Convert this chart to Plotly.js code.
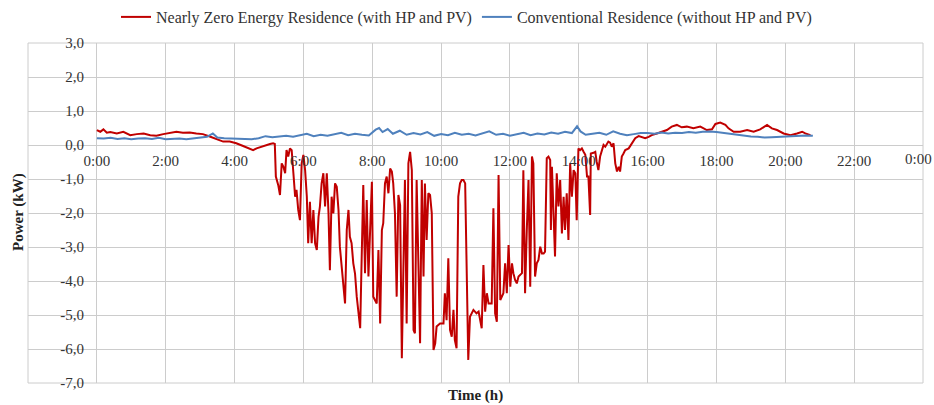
<!DOCTYPE html>
<html>
<head>
<meta charset="utf-8">
<script src="https://cdn.plot.ly/plotly-3.0.1.min.js"></script>
<style>html,body{margin:0;padding:0;background:#fff;}#chart{width:934px;height:405px;}</style>
</head>
<body>
<div id="chart"></div>
<script>
// Time in hours, power in kW
const nzebTime = [0.00,0.10,0.19,0.29,0.39,0.58,0.77,0.97,1.16,1.36,1.55,1.73,1.93,2.12,2.31,2.50,2.70,2.89,3.08,3.28,3.47,3.67,3.86,4.05,4.25,4.44,4.54,4.64,4.83,5.03,5.12,5.17,
5.20,5.27,5.32,5.37,5.42,5.47,5.51,5.56,5.61,5.66,5.71,5.76,5.80,5.85,5.90,5.95,6.00,6.05,6.10,6.14,6.19,6.24,6.29,6.34,6.39,6.44,6.48,6.53,6.58,6.63,6.68,6.73,6.77,6.82,6.87,6.92,6.97,7.02,7.06,7.11,7.16,7.21,7.26,7.31,7.35,7.40,7.45,7.50,7.55,7.60,7.65,
7.69,7.74,7.79,7.84,7.89,7.99,8.03,8.08,8.13,8.18,8.23,8.28,8.32,8.37,8.42,8.47,8.52,8.57,8.61,8.66,8.71,8.76,8.81,8.86,8.91,8.95,9.00,9.05,9.10,9.15,9.20,9.24,9.29,9.34,9.39,9.44,9.49,9.53,9.58,9.63,9.68,9.73,9.78,9.83,9.87,9.97,10.07,10.11,10.16,10.21,10.26,10.31,10.36,10.40,10.45,10.50,10.55,10.60,10.65,10.70,10.74,10.79,10.84,10.94,11.03,
11.09,11.18,11.23,11.28,11.33,11.38,11.47,11.52,11.57,11.62,11.67,11.72,11.76,11.81,11.86,11.91,11.96,12.01,12.06,12.10,12.15,12.20,12.25,12.30,12.35,12.39,12.44,12.49,12.54,12.59,12.64,12.68,12.73,12.78,12.83,12.88,12.93,12.98,13.02,13.07,13.12,13.17,13.19,13.22,13.26,13.31,13.36,13.41,13.46,13.51,13.56,13.60,13.65,13.70,13.75,13.80,13.85,13.90,13.94,13.99,
14.04,14.09,14.14,14.19,14.24,14.28,14.33,14.35,14.43,14.48,14.52,14.57,14.62,14.67,14.72,14.77,14.82,14.86,14.91,14.96,15.01,15.06,15.11,15.16,15.20,15.25,15.30,15.35,15.45,15.54,15.64,15.74,15.83,15.93,16.03,16.12,16.27,
16.42,16.56,16.70,16.85,16.99,17.14,17.33,17.53,17.72,17.87,17.97,18.11,18.26,18.35,18.50,18.69,18.89,19.08,19.27,19.47,19.61,19.76,19.95,20.15,20.34,20.49,20.58,20.73];
const nzebPower = [0.44,0.39,0.46,0.36,0.38,0.34,0.39,0.29,0.32,0.34,0.29,0.27,0.32,0.36,0.39,0.36,0.37,0.34,0.32,0.25,0.17,0.10,0.10,0.05,-0.03,-0.10,-0.15,-0.10,-0.03,0.03,0.05,0.03,
-0.93,-1.18,-1.47,-0.54,-0.64,-0.83,-0.15,-0.34,-0.10,-0.15,-0.83,-1.52,-1.32,-1.91,-2.21,-0.54,-0.29,-0.74,-1.52,-2.89,-1.67,-2.89,-1.91,-2.89,-3.09,-2.11,-1.81,-1.13,-0.83,-1.81,-0.83,-2.01,-3.68,-1.52,-2.01,-1.13,-1.23,-1.91,-2.99,-3.48,-3.97,-4.66,-2.50,-1.91,-2.70,-2.89,-3.48,-3.78,-4.46,-4.85,-5.39,
-3.48,-1.18,-3.77,-1.62,-3.87,-1.08,-4.46,-4.56,-4.66,-3.09,-5.25,-2.50,-2.30,-1.13,-0.93,-1.42,-0.69,-0.78,-1.13,-2.01,-4.46,-1.47,-1.77,-6.27,-2.50,-1.03,-5.25,-0.54,-0.20,-0.74,-5.44,-5.54,-1.03,-3.48,-5.83,-1.03,-3.87,-1.13,-2.79,-1.42,-1.47,-2.01,-6.03,-5.83,-5.34,-5.25,-5.25,-4.36,-5.15,-3.33,-5.44,-5.64,-4.85,-5.74,-5.98,-1.52,-1.13,-1.03,-1.03,-1.13,-3.48,-6.32,-5.05,-4.85,-4.95,
-4.90,-5.39,-3.53,-4.90,-4.36,-4.66,-4.66,-1.86,-4.95,-5.20,-0.88,-4.56,-4.46,-4.36,-3.48,-4.36,-2.94,-4.17,-3.48,-3.77,-3.97,-4.07,-3.87,-3.82,-3.77,-0.74,-4.36,-2.50,-1.03,-4.17,-0.34,-0.54,-3.87,-3.48,-3.38,-2.99,-3.19,-3.19,-3.14,-0.39,-0.34,-0.44,-2.50,-0.64,-2.11,-3.28,-0.83,-1.81,-1.03,-2.60,-1.52,-2.50,-1.42,-2.79,-0.54,-1.52,-0.74,-0.83,-2.21,-0.10,
-0.15,-0.10,-0.20,-0.29,-0.93,-0.93,-2.06,-0.25,-0.23,-0.20,-0.49,-0.74,-0.34,-0.15,0.00,-0.05,0.05,0.10,0.07,-0.05,0.05,-0.54,-0.78,-0.64,-0.78,-0.34,-0.25,-0.15,-0.10,0.05,0.20,0.26,0.24,0.20,0.24,0.29,0.34,
0.39,0.44,0.54,0.59,0.52,0.54,0.49,0.54,0.44,0.46,0.62,0.66,0.59,0.49,0.39,0.39,0.44,0.39,0.46,0.59,0.49,0.44,0.34,0.29,0.34,0.39,0.34,0.29];

const convTime = [0.0,0.2,0.4,0.6,0.8,1.0,1.2,1.4,1.6,1.8,2.0,2.2,2.4,2.6,2.8,3.0,3.2,3.37,3.5,3.7,3.9,4.1,4.3,4.5,4.7,4.9,5.1,5.3,5.5,5.7,5.9,6.1,6.3,6.5,6.7,6.9,7.1,7.3,7.5,7.7,7.9,8.1,8.2,8.3,8.45,8.6,8.8,9.0,9.2,9.4,9.6,9.8,10.0,10.2,10.4,10.6,10.8,11.0,11.2,11.4,11.6,11.8,12.0,12.2,12.4,12.6,12.8,13.0,13.2,13.4,13.6,13.8,13.95,14.05,14.2,14.4,14.6,14.8,15.0,15.2,15.4,15.6,15.8,16.0,16.2,16.4,16.6,16.8,17.0,17.2,17.4,17.6,17.8,18.0,18.2,18.4,18.6,18.8,19.0,19.2,19.4,19.6,19.8,20.0,20.2,20.4,20.6,20.8];
const convPower = [0.20,0.19,0.21,0.18,0.20,0.17,0.19,0.20,0.18,0.21,0.17,0.18,0.19,0.17,0.19,0.22,0.24,0.34,0.22,0.20,0.19,0.18,0.17,0.17,0.20,0.26,0.23,0.25,0.27,0.24,0.28,0.33,0.26,0.30,0.27,0.31,0.36,0.29,0.33,0.30,0.28,0.45,0.50,0.38,0.47,0.33,0.42,0.30,0.35,0.31,0.38,0.27,0.32,0.29,0.36,0.30,0.33,0.28,0.35,0.40,0.30,0.33,0.27,0.32,0.36,0.29,0.34,0.31,0.37,0.33,0.39,0.35,0.55,0.40,0.30,0.33,0.36,0.30,0.40,0.33,0.29,0.32,0.35,0.35,0.33,0.37,0.34,0.36,0.35,0.38,0.36,0.39,0.40,0.38,0.35,0.33,0.31,0.28,0.25,0.24,0.22,0.23,0.24,0.25,0.27,0.26,0.28,0.27];

const xTickVals = [0,2,4,6,8,10,12,14,16,18,20,22,24];
const xTickText = ['0:00','2:00','4:00','6:00','8:00','10:00','12:00','14:00','16:00','18:00','20:00','22:00','0:00'];
const yTickVals = [3,2,1,0,-1,-2,-3,-4,-5,-6,-7];
const yTickText = ['3,0','2,0','1,0','0,0','-1,0','-2,0','-3,0','-4,0','-5,0','-6,0','-7,0'];
const seriesNames = ['Nearly Zero Energy Residence (with HP and PV)','Conventional Residence (without HP and PV)'];

const font = 'Liberation Serif, Times New Roman, serif';
const traces = [
  {x: nzebTime, y: nzebPower, name: seriesNames[0], type: 'scatter', mode: 'lines', line: {color: '#C00000', width: 2}},
  {x: convTime, y: convPower, name: seriesNames[1], type: 'scatter', mode: 'lines', line: {color: '#4F81BD', width: 2}}
];
const lastIdx = xTickVals.length - 1;
const layout = {
  width: 934, height: 405,
  margin: {l: 28, r: 11, t: 43, b: 22, pad: 0, autoexpand: false},
  paper_bgcolor: '#fff', plot_bgcolor: '#fff',
  font: {family: font, size: 15, color: '#333'},
  showlegend: true,
  legend: {orientation: 'h', x: 0.5 - 9/895, xanchor: 'center', y: 1 + 26/340, yanchor: 'middle', font: {family: font, size: 16, color: '#333'}, itemwidth: 30, tracegroupgap: 0},
  xaxis: {range: [-2, 24], tickvals: xTickVals.slice(0, lastIdx), ticktext: xTickText.slice(0, lastIdx), anchor: 'free', position: 0.7,
    showgrid: true, gridcolor: '#cccccc', gridwidth: 1, zeroline: false, showline: false, ticks: '', ticklabelstandoff: 5,
    tickfont: {family: font, size: 15, color: '#333'}},
  yaxis: {range: [-7, 3], tickvals: yTickVals, ticktext: yTickText, anchor: 'free', position: 69/895,
    showgrid: true, gridcolor: '#cccccc', gridwidth: 1, zeroline: false, showline: false, ticks: '', ticklabelstandoff: 13,
    tickfont: {family: font, size: 15, color: '#333'}},
  shapes: [{type: 'rect', xref: 'paper', yref: 'paper', x0: 0, x1: 1, y0: 0, y1: 1, line: {color: '#cccccc', width: 1}, layer: 'below'}],
  annotations: [
    {text: xTickText[lastIdx], xref: 'x', yref: 'paper', x: xTickVals[lastIdx], y: 0.7, xanchor: 'right', yanchor: 'top', xshift: 11, yshift: -4, showarrow: false, font: {family: font, size: 15, color: '#333'}},
    {text: '<b>Power (kW)</b>', xref: 'paper', yref: 'paper', x: -10/895, y: (383-212)/340, textangle: -90, showarrow: false, font: {family: font, size: 15, color: '#222'}, xanchor: 'center', yanchor: 'middle'},
    {text: '<b>Time (h)</b>', xref: 'paper', yref: 'paper', x: (475-28)/895, y: (383-395)/340, showarrow: false, font: {family: font, size: 15, color: '#222'}, xanchor: 'center', yanchor: 'middle'}
  ]
};
Plotly.newPlot('chart', traces, layout, {displayModeBar: false, staticPlot: true});
</script>
</body>
</html>
